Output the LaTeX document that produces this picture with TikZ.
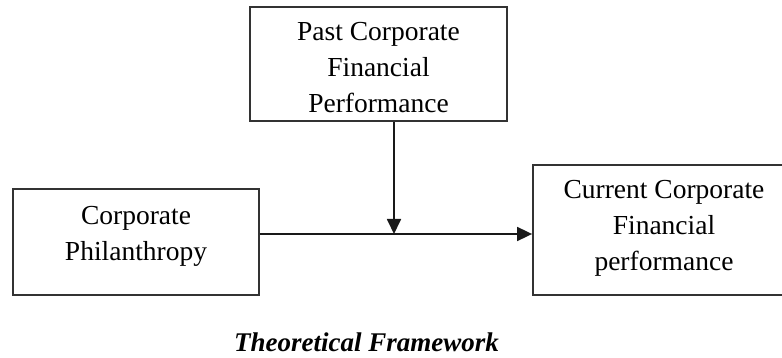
\documentclass[tikz,border=0pt]{standalone}
\usepackage{fontspec}
\setmainfont{Liberation Serif}
\usetikzlibrary{arrows.meta}

\tikzset{
  framebox/.style={draw=black!80, line width=1.8pt, fill=white, inner sep=0pt},
  boxtext/.style={align=center, inner sep=0pt,
    font=\fontsize{27.5}{36}\selectfont},
  link/.style={line width=1.8pt, draw=black!90,
    -{Triangle[length=15pt,width=14pt]}},
  caption/.style={inner sep=0pt, anchor=base,
    font=\fontsize{27}{32}\selectfont\bfseries\itshape}
}

\begin{document}
\begin{tikzpicture}[x=1pt, y=-1pt]
  \useasboundingbox (0,0) rectangle (782,358);
  \clip (0,0) rectangle (782,358);

  % boxes
  \node[framebox, minimum width=257pt, minimum height=114pt] (past) at (378.5,64) {};
  \node[framebox, minimum width=246pt, minimum height=106pt] (phil) at (136,242) {};
  \node[framebox, minimum width=262pt, minimum height=130pt] (cur) at (664,230) {};

  % box labels
  \node[boxtext] (pasttext) at (378.5,67.5) {Past Corporate\\Financial\\Performance};
  \node[boxtext] (philtext) at (136,236.5) {Corporate\\Philanthropy};
  \node[boxtext] (curtext) at (664,228.5) {Current Corporate\\Financial\\performance};

  % junction where the moderating path meets the main path
  \coordinate (j) at (394,234);

  \draw[link] (phil.east |- j) -- (cur.west |- j);
  \draw[link] (past.south -| j) -- (j);

  % caption
  \node[caption] (title) at (366.5,351) {Theoretical Framework};
\end{tikzpicture}
\end{document}
